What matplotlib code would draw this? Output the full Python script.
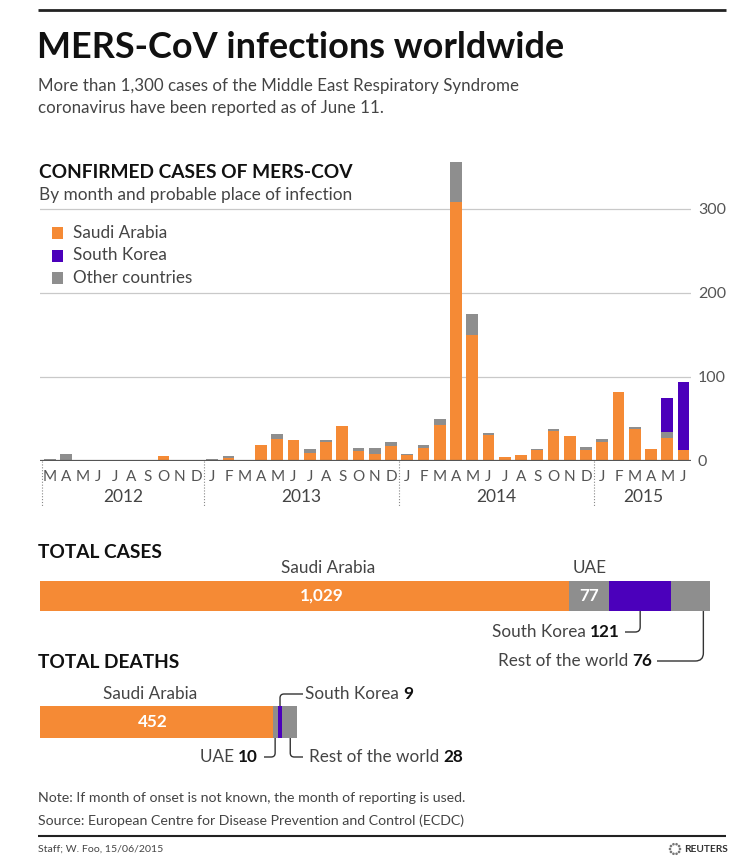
import matplotlib
matplotlib.use("Agg")
import matplotlib.pyplot as plt
import numpy as np
from matplotlib.path import Path
from matplotlib.patches import PathPatch, Rectangle, Circle
from matplotlib.transforms import blended_transform_factory

plt.rcParams['font.family'] = ['Lato', 'DejaVu Sans']

# ---------------- data ----------------
months = ["M", "A", "M", "J", "J", "A", "S", "O", "N", "D"] + list("JFMAMJJASOND") * 2 + list("JFMAMJ")
years = ["2012", "2013", "2014", "2015"]
year_lengths = [10, 12, 12, 6]
saudi = [0, 0, 0, 1, 0, 0, 0, 5, 0, 0,
         1, 3, 0, 18, 26, 24, 9, 22, 41, 11, 8, 17,
         7, 15, 42, 308, 149, 30, 4, 6, 12, 35, 29, 13,
         22, 82, 37, 14, 27, 13]
other = [2, 8, 0, 0, 0, 0, 1, 0, 0, 0,
         1, 2, 1, 1, 5, 0, 5, 3, 0, 4, 7, 5,
         1, 3, 7, 47, 25, 3, 0, 0, 2, 2, 0, 3,
         4, 0, 3, 0, 7, 0]
korea = [0] * 38 + [41, 80]
y_ticks = [0, 100, 200, 300]

total_labels = ["Saudi Arabia", "UAE", "South Korea", "Rest of the world"]
total_cases = [1029, 77, 121, 76]
total_deaths = [452, 10, 9, 28]

ORANGE = "#F58A35"
PURPLE = "#4B00BB"
GRAY = "#8E8E8E"
TXT = "#444444"
DARK = "#111111"

W, H = 736, 865
fig = plt.figure(figsize=(W / 100, H / 100), dpi=100)
ov = fig.add_axes([0, 0, 1, 1])
ov.set_xlim(0, W)
ov.set_ylim(H, 0)
ov.axis('off')
R = fig.canvas.get_renderer()


def fig_rect(x0, y0, x1, y1):
    return [x0 / W, (H - y1) / H, (x1 - x0) / W, (y1 - y0) / H]


def fit(t, target):
    w = t.get_window_extent(R).width
    t.set_fontsize(t.get_fontsize() * target / w)
    return t.get_fontsize()


def rounded(pts, r=5, color="#333333", lw=1.0):
    (x0, y0), (cx, cy), (x1, y1) = pts
    v0 = np.array([x0 - cx, y0 - cy]); v0 = v0 / np.linalg.norm(v0)
    v1 = np.array([x1 - cx, y1 - cy]); v1 = v1 / np.linalg.norm(v1)
    a = (cx + r * v0[0], cy + r * v0[1])
    b = (cx + r * v1[0], cy + r * v1[1])
    path = Path([(x0, y0), a, (cx, cy), b, (x1, y1)],
                [Path.MOVETO, Path.LINETO, Path.CURVE3, Path.CURVE3, Path.LINETO])
    ov.add_patch(PathPatch(path, fill=False, edgecolor=color, lw=lw, capstyle='butt'))


def mixed(x, y, regular, bold, ha, size):
    """regular text followed by bold number; ha='left' or 'right' for whole group"""
    if ha == 'right':
        tb = ov.text(x, y, bold, ha='right', va='center', fontsize=size, fontweight='bold', color=DARK)
        wb = tb.get_window_extent(R).width
        ov.text(x - wb, y, regular, ha='right', va='center', fontsize=size, color=TXT)
    else:
        tr = ov.text(x, y, regular, ha='left', va='center', fontsize=size, color=TXT)
        wr = tr.get_window_extent(R).width
        ov.text(x + wr, y, bold, ha='left', va='center', fontsize=size, fontweight='bold', color=DARK)


# ---------------- header ----------------
ov.plot([38, 726], [10, 10], color="#222222", lw=2, solid_capstyle='butt')
t = ov.text(37, 48, "MERS-CoV infections worldwide", fontsize=26, fontweight='bold', color=DARK, va='center')
fit(t, 526)
s1 = ov.text(38, 86, "More than 1,300 cases of the Middle East Respiratory Syndrome", fontsize=12, color=TXT, va='center')
sz = fit(s1, 478)
ov.text(38, 108, "coronavirus have been reported as of June 11.", fontsize=sz, color=TXT, va='center')

h1 = ov.text(39, 173, "CONFIRMED CASES OF MERS-COV", fontsize=14, fontweight='bold', color=DARK, va='center')
hsz = fit(h1, 316)
s2 = ov.text(39, 195, "By month and probable place of infection", fontsize=12, color=TXT, va='center')
fit(s2, 312)

for i, (lab, col) in enumerate(zip(["Saudi Arabia", "South Korea", "Other countries"], [ORANGE, PURPLE, GRAY])):
    yc = 233 + i * 22.5
    ov.add_patch(Rectangle((52, yc - 6), 11, 12, color=col, lw=0))
    ov.text(73, yc, lab, fontsize=12.3, color=TXT, va='center')

# ---------------- monthly bar chart ----------------
ax = fig.add_axes(fig_rect(40, 150, 691, 460.5))
ax.set_facecolor('none')
x = np.arange(len(months))
spacing = 16.25
x0px = 49.75
ax.set_xlim((40 - x0px) / spacing, (691 - x0px) / spacing)
ax.set_ylim(0, 310.5 / 0.84)
sa = np.array(saudi); ot = np.array(other); ko = np.array(korea)
ax.bar(x, sa, width=0.72, color=ORANGE, lw=0, zorder=3)
ax.bar(x, ot, bottom=sa, width=0.72, color=GRAY, lw=0, zorder=3)
ax.bar(x, ko, bottom=sa + ot, width=0.72, color=PURPLE, lw=0, zorder=3)
for yv in y_ticks[1:]:
    ax.axhline(yv, color="#C9C9C9", lw=0.9, zorder=1)
ax.axhline(0, color="#555555", lw=1.6, zorder=4)
for sp in ax.spines.values():
    sp.set_visible(False)
ax.yaxis.tick_right()
ax.set_yticks(y_ticks)
ax.set_yticklabels([str(v) for v in y_ticks], fontsize=11.5, color="#555555")
ax.tick_params(axis='y', length=0, pad=5)
ax.set_xticks(x)
ax.set_xticklabels(months, fontsize=11, color="#555555")
ax.tick_params(axis='x', length=0, pad=7)

bt = blended_transform_factory(ax.transData, ov.transData)
bounds = np.concatenate([[0], np.cumsum(year_lengths)]) - 0.5
for b in bounds[:-1]:
    ax.plot([b, b], [461, 506], transform=bt, color="#888888", lw=0.8,
            linestyle=(0, (1, 1.6)), clip_on=False)
for yr, b0, b1 in zip(years, bounds[:-1], bounds[1:]):
    ax.text((b0 + b1) / 2, 497, yr, transform=bt, ha='center', va='center',
            fontsize=12.5, color=TXT)

# ---------------- total cases ----------------
scale_max = sum(total_cases)
ov.text(38, 553, "TOTAL CASES", fontsize=hsz, fontweight='bold', color=DARK, va='center')
axc = fig.add_axes(fig_rect(40, 581, 40 + 670.4, 611))
axc.set_xlim(0, scale_max)
axc.set_ylim(-0.5, 0.5)
axc.axis('off')
cols = [ORANGE, GRAY, PURPLE, GRAY]
lefts_c = np.concatenate([[0], np.cumsum(total_cases)[:-1]])
axc.barh(0, total_cases, left=lefts_c, height=1, color=cols, lw=0)
tc = blended_transform_factory(axc.transData, ov.transData)
axc.text(lefts_c[0] + total_cases[0] * 0.545, 568, total_labels[0], transform=tc, ha='center', va='center', fontsize=12.3, color=TXT)
axc.text(lefts_c[1] + total_cases[1] / 2, 568, total_labels[1], transform=tc, ha='center', va='center', fontsize=12.3, color=TXT)
axc.text(lefts_c[0] + total_cases[0] * 0.532, 0, f"{total_cases[0]:,}", ha='center', va='center', fontsize=12.3, fontweight='bold', color='white')
axc.text(lefts_c[1] + total_cases[1] / 2, 0, f"{total_cases[1]:,}", ha='center', va='center', fontsize=12.3, fontweight='bold', color='white')


def px(axis, v):
    return axis.transData.transform((v, 0))[0]


sk_x = px(axc, lefts_c[2] + total_cases[2] / 2)
rounded([(625, 632), (sk_x, 632), (sk_x, 611)], r=5)
mixed(620, 632, "South Korea ", f"{total_cases[2]}", 'right', 12.3)
rw_x = px(axc, lefts_c[3] + total_cases[3] * 0.82)
rounded([(657, 661), (rw_x, 661), (rw_x, 611)], r=8)
mixed(652, 661, "Rest of the world ", f"{total_cases[3]}", 'right', 12.3)

# ---------------- total deaths ----------------
ov.text(38, 663, "TOTAL DEATHS", fontsize=hsz, fontweight='bold', color=DARK, va='center')
axd = fig.add_axes(fig_rect(40, 706, 40 + 670.4, 738))
axd.set_xlim(0, scale_max)
axd.set_ylim(-0.5, 0.5)
axd.axis('off')
lefts_d = np.concatenate([[0], np.cumsum(total_deaths)[:-1]])
axd.barh(0, total_deaths, left=lefts_d, height=1, color=cols, lw=0)
td = blended_transform_factory(axd.transData, ov.transData)
axd.text(lefts_d[0] + total_deaths[0] * 0.475, 694, total_labels[0], transform=td, ha='center', va='center', fontsize=12.3, color=TXT)
axd.text(lefts_d[0] + total_deaths[0] * 0.485, 0, f"{total_deaths[0]}", ha='center', va='center', fontsize=12.3, fontweight='bold', color='white')

uae_x = px(axd, lefts_d[1] + total_deaths[1] / 2)
rounded([(uae_x, 738), (uae_x, 757), (264, 757)], r=4)
mixed(258, 757, "UAE ", f"{total_deaths[1]}", 'right', 12.3)
skd_x = px(axd, lefts_d[2] + total_deaths[2] / 2)
rounded([(skd_x, 706), (skd_x, 694), (303, 694)], r=4)
mixed(305, 694, "South Korea ", f"{total_deaths[2]}", 'left', 12.3)
rwd_x = px(axd, lefts_d[3] + total_deaths[3] * 0.55)
rounded([(rwd_x, 738), (rwd_x, 757), (303, 757)], r=4)
mixed(309, 757, "Rest of the world ", f"{total_deaths[3]}", 'left', 12.3)

# ---------------- footer ----------------
n1 = ov.text(38, 798, "Note: If month of onset is not known, the month of reporting is used.", fontsize=10.5, color=TXT, va='center')
nsz = fit(n1, 430)
ov.text(38, 821, "Source: European Centre for Disease Prevention and Control (ECDC)", fontsize=nsz, color=TXT, va='center')
ov.plot([38, 726], [836, 836], color="#222222", lw=1.5, solid_capstyle='butt')
st = ov.text(38, 849, "Staff; W. Foo, 15/06/2015", fontsize=8, color=TXT, va='center')
fit(st, 125)
# Reuters logo
for k in range(10):
    a = 2 * np.pi * k / 10
    ov.add_patch(Circle((675 + 5 * np.cos(a), 849 + 5 * np.sin(a)), 1.3, color="#777777", lw=0))
ov.text(684, 849.5, "REUTERS", fontsize=7.3, fontweight='bold', color="#333333", va='center')

fig.savefig("out.png", dpi=100)
